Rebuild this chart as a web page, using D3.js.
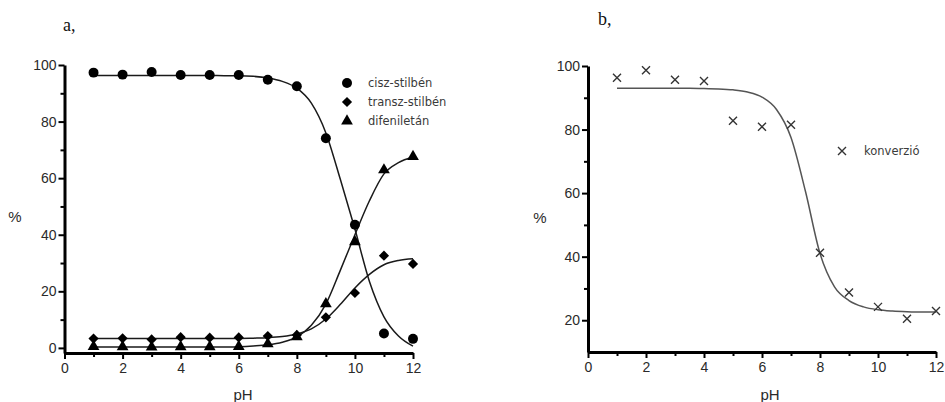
<!DOCTYPE html>
<html>
<head>
<meta charset="utf-8">
<script src="https://cdn.jsdelivr.net/npm/d3@7"></script>
<style>
  html, body { margin: 0; padding: 0; background: #fff; }
  svg { display: block; }
  .tick text { font-family: "Liberation Sans", Arial, sans-serif; font-size: 14px; fill: #2a2a2a; }
  .lbl { font-family: "Liberation Sans", Arial, sans-serif; fill: #2a2a2a; }
  .legend { font-family: "DejaVu Sans", "Noto Sans", sans-serif; font-size: 11.5px; fill: #3a3a3a; }
  .panel { font-family: "Liberation Serif", "Times New Roman", serif; font-size: 18px; fill: #111; }
</style>
</head>
<body>
<svg id="chart" width="945" height="402"></svg>
<script>
// Measured points (pH 1..12)
const pH = [1, 2, 3, 4, 5, 6, 7, 8, 9, 10, 11, 12];
const ciszStilben   = [97.3, 96.6, 97.5, 96.5, 96.5, 96.5, 94.8, 92.5, 74.1, 43.5, 5.1, 3.2];
const transzStilben = [3.3, 3.4, 3.0, 3.8, 3.6, 3.7, 4.2, 4.6, 10.8, 19.4, 32.6, 29.7];
const difeniletan   = [0.5, 0.4, 0.3, 0.4, 0.4, 0.5, 1.4, 3.9, 15.6, 37.5, 62.9, 67.6];
const konverzio     = [96.3, 98.7, 95.7, 95.3, 82.8, 80.9, 81.5, 41.2, 28.7, 24.2, 20.5, 22.9];

// Fitted sigmoid curves, sampled every 0.5 pH
const fitPH = [1, 1.5, 2, 2.5, 3, 3.5, 4, 4.5, 5, 5.5, 6, 6.5, 7, 7.5, 8, 8.5, 9, 9.5, 10, 10.5, 11, 11.5, 12];
const ciszFit      = [96.3, 96.3, 96.3, 96.3, 96.3, 96.3, 96.3, 96.3, 96.3, 96.2, 96.2, 96.0, 95.4, 94.2, 91.8, 86.5, 76.0, 59.5, 42.0, 23.5, 11.0, 4.2, 0.6];
const transzFit    = [3.3, 3.3, 3.3, 3.3, 3.3, 3.3, 3.3, 3.3, 3.3, 3.3, 3.35, 3.45, 3.6, 4.0, 4.9, 6.7, 10.2, 15.4, 21.2, 26.0, 29.4, 30.9, 31.5];
const difenFit     = [0.3, 0.3, 0.3, 0.3, 0.3, 0.3, 0.3, 0.3, 0.3, 0.35, 0.45, 0.7, 1.1, 2.0, 3.9, 8.0, 15.5, 27.5, 40.0, 52.0, 61.5, 65.5, 67.5];
const konverzioFit = [93.0, 93.0, 93.0, 93.0, 93.0, 93.0, 92.9, 92.8, 92.5, 91.8, 90.2, 86.3, 77.5, 60.5, 41.0, 30.5, 26.2, 24.2, 23.3, 22.9, 22.7, 22.6, 22.6];

// Axis ticks
const xTicks = [0, 2, 4, 6, 8, 10, 12];
const xMinor = [1, 3, 5, 7, 9, 11];
const yTicksA = [0, 20, 40, 60, 80, 100];
const yMinorA = [10, 30, 50, 70, 90];
const yTicksB = [20, 40, 60, 80, 100];
const yMinorB = [30, 50, 70, 90];

const legendA = ["cisz-stilbén", "transz-stilbén", "difeniletán"];
const legendB = ["konverzió"];

const svg = d3.select("#chart");

// x-shaped symbol
const symbolTimes = {
  draw(ctx, size) {
    const r = Math.sqrt(size) / 2;
    ctx.moveTo(-r, -r); ctx.lineTo(r, r);
    ctx.moveTo(r, -r); ctx.lineTo(-r, r);
  }
};

function drawAxes(g, x, y, yMajor, yMinor) {
  g.append("g").attr("transform", `translate(0,${y.range()[0]})`)
    .call(d3.axisBottom(x).tickValues(xTicks).tickSize(6).tickSizeOuter(0).tickPadding(4));
  g.append("g").attr("transform", `translate(0,${y.range()[0]})`)
    .call(d3.axisBottom(x).tickValues(xMinor).tickSize(4).tickFormat(""))
    .call(s => s.select(".domain").remove());
  g.append("g").attr("transform", `translate(${x.range()[0]},0)`)
    .call(d3.axisLeft(y).tickValues(yMajor).tickSize(6).tickSizeOuter(0).tickPadding(2));
  g.append("g").attr("transform", `translate(${x.range()[0]},0)`)
    .call(d3.axisLeft(y).tickValues(yMinor).tickSize(4).tickFormat(""))
    .call(s => s.select(".domain").remove());
  g.selectAll(".domain").attr("stroke", "#000").attr("stroke-width", 3);
  g.selectAll(".tick line").attr("stroke", "#000").attr("stroke-width", 2);
}

// ---------- Panel a ----------
const xA = d3.scaleLinear().domain([0, 12]).range([64.5, 413]);
const yA = d3.scaleLinear().domain([-1.8, 100]).range([353, 65]);
const gA = svg.append("g");
drawAxes(gA, xA, yA, yTicksA, yMinorA);

const lineA = d3.line().x((d, i) => xA(fitPH[i])).y(d => yA(d)).curve(d3.curveMonotoneX);
[ciszFit, transzFit, difenFit].forEach(s => {
  gA.append("path").attr("d", lineA(s)).attr("fill", "none")
    .attr("stroke", "#1a1a1a").attr("stroke-width", 1.5);
});

const symCircle = d3.symbol().type(d3.symbolCircle).size(78);
const symDiamond = d3.symbol().type(d3.symbolSquare).size(52);
const symTriangle = d3.symbol().type(d3.symbolTriangle).size(60);

gA.append("g").selectAll("path").data(difeniletan).join("path")
  .attr("d", symTriangle).attr("fill", "#000")
  .attr("transform", (d, i) => `translate(${xA(pH[i])},${yA(d)})`);
gA.append("g").selectAll("path").data(transzStilben).join("path")
  .attr("d", symDiamond).attr("fill", "#000")
  .attr("transform", (d, i) => `translate(${xA(pH[i])},${yA(d)}) rotate(45)`);
gA.append("g").selectAll("path").data(ciszStilben).join("path")
  .attr("d", symCircle).attr("fill", "#000")
  .attr("transform", (d, i) => `translate(${xA(pH[i])},${yA(d)})`);

// legend a
const legA = gA.append("g").attr("transform", "translate(347,83)");
const legSyms = [symCircle, symDiamond, symTriangle];
legendA.forEach((t, i) => {
  const row = legA.append("g").attr("transform", `translate(0,${i * 19})`);
  row.append("path").attr("d", legSyms[i]).attr("fill", "#000")
    .attr("transform", i === 1 ? "rotate(45)" : null);
  row.append("text").attr("class", "legend").attr("x", 21).attr("y", 4).text(t);
});

gA.append("text").attr("class", "lbl").attr("x", 15).attr("y", 222)
  .attr("text-anchor", "middle").attr("font-size", 15).text("%");
gA.append("text").attr("class", "lbl").attr("x", 243).attr("y", 400)
  .attr("text-anchor", "middle").attr("font-size", 15).text("pH");
gA.append("text").attr("class", "panel").attr("x", 63).attr("y", 31).text("a,");

// ---------- Panel b ----------
const xB = d3.scaleLinear().domain([0, 12]).range([588, 936]);
const yB = d3.scaleLinear().domain([10, 100]).range([352, 66]);
const gB = svg.append("g");
drawAxes(gB, xB, yB, yTicksB, yMinorB);

const lineB = d3.line().x((d, i) => xB(fitPH[i])).y(d => yB(d)).curve(d3.curveMonotoneX);
gB.append("path").attr("d", lineB(konverzioFit)).attr("fill", "none")
  .attr("stroke", "#555").attr("stroke-width", 1.5);

const symX = d3.symbol().type(symbolTimes).size(64);
gB.append("g").selectAll("path").data(konverzio).join("path")
  .attr("d", symX).attr("fill", "none").attr("stroke", "#333").attr("stroke-width", 1.4)
  .attr("transform", (d, i) => `translate(${xB(pH[i])},${yB(d)})`);

const legB = gB.append("g").attr("transform", "translate(842,151)");
legB.append("path").attr("d", symX).attr("fill", "none").attr("stroke", "#333").attr("stroke-width", 1.4);
legB.append("text").attr("class", "legend").attr("x", 22).attr("y", 4).text(legendB[0]);

gB.append("text").attr("class", "lbl").attr("x", 540).attr("y", 223)
  .attr("text-anchor", "middle").attr("font-size", 15).text("%");
gB.append("text").attr("class", "lbl").attr("x", 770).attr("y", 400)
  .attr("text-anchor", "middle").attr("font-size", 15).text("pH");
gB.append("text").attr("class", "panel").attr("x", 598).attr("y", 25).text("b,");
</script>
</body>
</html>
